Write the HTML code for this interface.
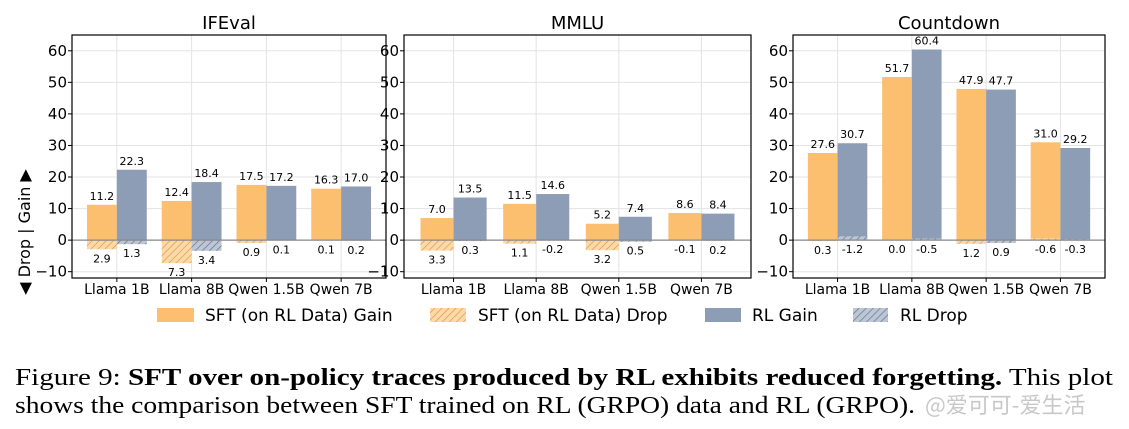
<!DOCTYPE html>
<html><head><meta charset="utf-8"><style>
body{margin:0;background:#fff;width:1129px;height:429px;overflow:hidden}
svg{display:block}
</style></head><body>
<svg id="c" width="1129" height="429" xmlns="http://www.w3.org/2000/svg" font-family="DejaVu Sans, Liberation Sans, sans-serif">
<defs>
<pattern id="hO" patternUnits="userSpaceOnUse" width="5" height="5" patternTransform="rotate(45)"><rect width="5" height="5" fill="#fbd9a8"/><line x1="0" y1="0" x2="0" y2="5" stroke="#e0953f" stroke-width="1.3"/></pattern>
<pattern id="hB" patternUnits="userSpaceOnUse" width="5" height="5" patternTransform="rotate(45)"><rect width="5" height="5" fill="#bcc6d4"/><line x1="0" y1="0" x2="0" y2="5" stroke="#5f6f8a" stroke-width="1.3"/></pattern>
</defs>
<g id="plots"></g>
<text x="30" y="232" transform="rotate(-90 30 232)" text-anchor="middle" font-size="16">◀ Drop | Gain ▶</text>
<g font-size="17">
<rect x="157" y="308" width="37" height="14" fill="#fbbf6f"/>
<text x="205" y="321">SFT (on RL Data) Gain</text>
<rect x="430" y="308" width="36" height="14" fill="url(#hO)"/>
<text x="478" y="321">SFT (on RL Data) Drop</text>
<rect x="705" y="308" width="36" height="14" fill="#8c9db5"/>
<text x="752" y="321">RL Gain</text>
<rect x="853" y="308" width="35" height="14" fill="url(#hB)"/>
<text x="900" y="321">RL Drop</text>
</g>
<g font-family="Liberation Serif, serif" font-size="24">
<text x="15" y="385" textLength="1098" lengthAdjust="spacingAndGlyphs">Figure 9: <tspan font-weight="bold">SFT over on-policy traces produced by RL exhibits reduced forgetting.</tspan> This plot</text>
<text x="15" y="413" textLength="900" lengthAdjust="spacingAndGlyphs">shows the comparison between SFT trained on RL (GRPO) data and RL (GRPO).</text>
<text x="925" y="413" font-family="Noto Sans CJK SC, sans-serif" font-size="22" fill="#c8c8c8">@爱可可-爱生活</text>
</g>
</svg>
<script>
const categories=["Llama 1B","Llama 8B","Qwen 1.5B","Qwen 7B"];
const titles=["IFEval","MMLU","Countdown"];
const sftGain=[[11.2,12.4,17.5,16.3],[7.0,11.5,5.2,8.6],[27.6,51.7,47.9,31.0]];
const rlGain=[[22.3,18.4,17.2,17.0],[13.5,14.6,7.4,8.4],[30.7,60.4,47.7,29.2]];
const sftDrop=[[2.9,7.3,0.9,0.1],[3.3,1.1,3.2,-0.1],[0.3,0.0,1.2,-0.6]];
const rlDrop=[[1.3,3.4,0.1,0.2],[0.3,-0.2,0.5,0.2],[-1.2,-0.5,0.9,-0.3]];
const yTicks=[-10,0,10,20,30,40,50,60];
const NS="http://www.w3.org/2000/svg";
const boxes=[[72,386],[404,751],[793,1105]];
const plotTop=35,plotBot=278,ymin=-12,ymax=65;
const g=document.getElementById('plots');
function mk(t,a,p){const e=document.createElementNS(NS,t);for(const k in a)e.setAttribute(k,a[k]);(p||g).appendChild(e);return e;}
const y=v=>plotTop+(ymax-v)/(ymax-ymin)*(plotBot-plotTop);
boxes.forEach((b,pi)=>{
  const x=v=>b[0]+(v+0.6)/4.2*(b[1]-b[0]);
  const pg=mk('g',{});
  
  
  yTicks.forEach(t=>{
    const l=mk('line',{x1:b[0],x2:b[1],y1:y(t),y2:y(t),stroke:'#e3e3e3','stroke-width':1},pg);
    
    
    const tx=mk('text',{x:b[0]-5,y:y(t)+5,'text-anchor':'end','font-size':15},pg);
    
    
    tx.textContent=t<0?'\u2212'+(-t):t;
    mk('line',{x1:b[0]-4,x2:b[0],y1:y(t),y2:y(t),stroke:'#000'},pg);
  });
  categories.forEach((c,i)=>{
    const l=mk('line',{x1:x(i),x2:x(i),y1:plotTop,y2:plotBot,stroke:'#e3e3e3'},pg);
    
    
    const tx=mk('text',{x:x(i),y:plotBot+16,'text-anchor':'middle','font-size':14},pg);
    
    
    tx.textContent=c;
    mk('line',{x1:x(i),x2:x(i),y1:plotBot,y2:plotBot+4,stroke:'#000'},pg);
  });
  const series=[[sftGain,sftDrop,'#fbbf6f','url(#hO)',-0.2,'sft'],[rlGain,rlDrop,'#8c9db5','url(#hB)',0.2,'rl']];
  series.forEach(s=>{
    categories.forEach((c,i)=>{
      const gv=s[0][pi][i],dv=s[1][pi][i];
      const x0=x(i+s[4]-0.2),w=x(i+s[4]+0.2)-x0;
      const r=mk('rect',{x:x0,y:y(gv),width:w,height:y(0)-y(gv),fill:s[2]},pg);
      
      
      const lt=mk('text',{x:x0+w/2,y:y(gv)-5,'text-anchor':'middle','font-size':11},pg);
      
      
      lt.textContent=gv.toFixed(1);
      const h=-dv;
      const r2=mk('rect',{x:x0,y:Math.min(y(0),y(h)),width:w,height:Math.abs(y(h)-y(0)),fill:s[3]},pg);
      
      
      const dt=mk('text',{x:x0+w/2,y:Math.max(y(0),y(h))+13,'text-anchor':'middle','font-size':11},pg);
      
      
      dt.textContent=dv.toFixed(1);
    });
  });
  mk('line',{x1:b[0],x2:b[1],y1:y(0),y2:y(0),stroke:'#888','stroke-width':1.2},pg);
  const fr=mk('rect',{x:b[0],y:plotTop,width:b[1]-b[0],height:plotBot-plotTop,fill:'none',stroke:'#000','stroke-width':1.2},pg);
  
  
  const tt=mk('text',{x:(b[0]+b[1])/2,y:plotTop-6,'text-anchor':'middle','font-size':18},pg);
  
  
  tt.textContent=titles[pi];
});
</script>
</body></html>
